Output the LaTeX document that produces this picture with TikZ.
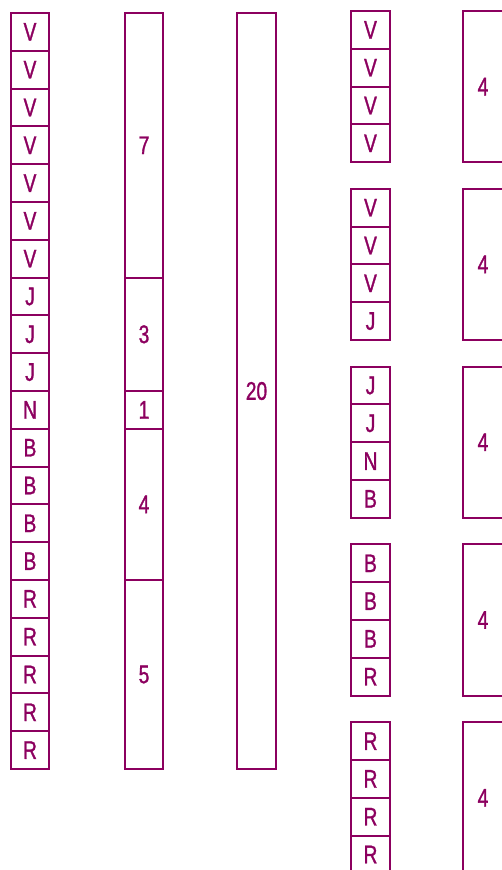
\documentclass[tikz,border=0pt]{standalone}
\usepackage{fontspec}
\newfontfamily\cond[FakeStretch=0.75,FakeBold=1.2]{Liberation Sans}
\definecolor{plum}{RGB}{140,0,95}
\tikzset{
  cell/.style={draw=plum, line width=2pt, text=plum, inner sep=0pt,
    font=\cond\fontsize{25.5}{25.5}\selectfont, minimum width=38pt},
}
\begin{document}
\begin{tikzpicture}[x=1pt,y=-1pt]
\useasboundingbox (0,0) rectangle (501,870);
% column 1: 20 single cells
\foreach \l [count=\i] in {V,V,V,V,V,V,V,J,J,J,N,B,B,B,B,R,R,R,R,R}{
  \node[cell, minimum height=37.8pt] (a\i) at (30, 13+37.8*\i-18.9) {\l};
}
% column 2: grouped blocks
\node[cell, minimum height=264.6pt] (b1) at (144, 13+132.3) {7};
\node[cell, minimum height=113.4pt] (b2) at (144, 277.6+56.7) {3};
\node[cell, minimum height=37.8pt]  (b3) at (144, 391+18.9) {1};
\node[cell, minimum height=151.2pt] (b4) at (144, 428.8+75.6) {4};
\node[cell, minimum height=189pt]   (b5) at (144, 580+94.5) {5};
% column 3: one block
\node[cell, minimum width=39pt, minimum height=756pt] (c1) at (256.5, 13+378) {20};
% column 4: groups of four cells, column 5: blocks of four
\foreach \g/\la/\lb/\lc/\ld [count=\k] in {0/V/V/V/V,1/V/V/V/J,2/J/J/N/B,3/B/B/B/R,4/R/R/R/R}{
  \pgfmathsetmacro{\top}{11+177.8*\g}
  \node[cell, minimum width=39pt, minimum height=37.8pt] (d\k a) at (370.5, \top+18.9) {\la};
  \node[cell, minimum width=39pt, minimum height=37.8pt] (d\k b) at (370.5, \top+56.7) {\lb};
  \node[cell, minimum width=39pt, minimum height=37.8pt] (d\k c) at (370.5, \top+94.5) {\lc};
  \node[cell, minimum width=39pt, minimum height=37.8pt] (d\k d) at (370.5, \top+132.3) {\ld};
  \node[cell, minimum width=40pt, minimum height=151.2pt] (e\k) at (483, \top+75.6) {4};
}
\end{tikzpicture}
\end{document}
